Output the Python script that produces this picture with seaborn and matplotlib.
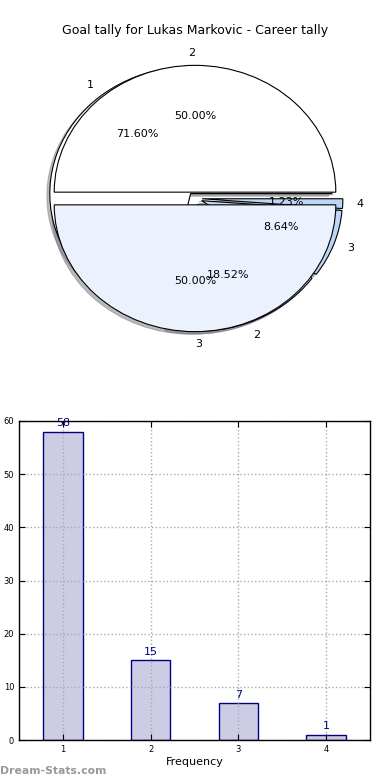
import matplotlib
matplotlib.use("Agg")
import matplotlib.pyplot as plt
import seaborn as sns
import pandas as pd

# Data
categories = [1, 2, 3, 4]
goal_counts = [58, 15, 7, 1]
pie_labels = ["1", "2", "3", "4"]
half_labels = ["2", "3"]
half_values = [50, 50]
title = "Goal tally for Lukas Markovic - Career tally"

plt.rcParams['font.family'] = ['DejaVu Sans']

fig = plt.figure(figsize=(3.9, 7.8), dpi=100)

# --- Pie chart ---
ax1 = fig.add_axes([19/390, 1 - 357/780, 352/390, 317/780])
shadow_style = dict(ox=-0.015, oy=-0.015, shade=0.5)
ax1.pie(goal_counts, labels=pie_labels, colors=["white", "#ebf1fd", "#bcd6f8", "#bcd6f8"],
        explode=[0.05] * 4, shadow=shadow_style, autopct="%1.2f%%", startangle=0,
        wedgeprops=dict(edgecolor="black", linewidth=0.8),
        textprops=dict(fontsize=8))
ax1.pie(half_values, labels=half_labels, colors=["white", "#ebf1fd"],
        explode=[0.05, 0.05], shadow=shadow_style, autopct="%1.2f%%", startangle=0,
        wedgeprops=dict(edgecolor="black", linewidth=0.8),
        textprops=dict(fontsize=8))
ax1.set_aspect("auto")
ax1.set_xlim(-1.25, 1.25)
ax1.set_ylim(-1.25, 1.25)
ax1.set_title(title, fontsize=9, pad=4)

# --- Bar chart ---
ax2 = fig.add_axes([19/390, 1 - 740/780, 351/390, 319/780])
df = pd.DataFrame({"goals": categories, "count": goal_counts})
sns.barplot(data=df, x="goals", y="count", native_scale=True, width=0.45,
            color="#ccccE5", edgecolor="navy", linewidth=1, saturation=1, ax=ax2)
ax2.set_xlim(0.5, 4.5)
ax2.set_ylim(0, 60)
ax2.set_xticks(categories)
ax2.set_xticklabels([str(c) for c in categories])
ax2.set_yticks(range(0, 61, 10))
ax2.tick_params(direction="in", top=True, right=True, labelsize=6, length=4, width=0.8)
ax2.grid(True, linestyle=":", color="#aaaaaa", linewidth=1)
ax2.set_axisbelow(False)
for sp in ax2.spines.values():
    sp.set_linewidth(1)
    sp.set_color("black")
    sp.set_zorder(5)
ax2.set_xlabel("Frequency", fontsize=8, labelpad=2)
ax2.set_ylabel("")
for c, v in zip(categories, goal_counts):
    ax2.text(c, v + 0.6, str(v), ha="center", va="bottom", color="navy", fontsize=8)

fig.text(0.0, 0.005, "Dream-Stats.com", color="#999999", fontsize=7.8, fontweight="bold",
         ha="left", va="bottom")

fig.savefig("out.png", dpi=100)
